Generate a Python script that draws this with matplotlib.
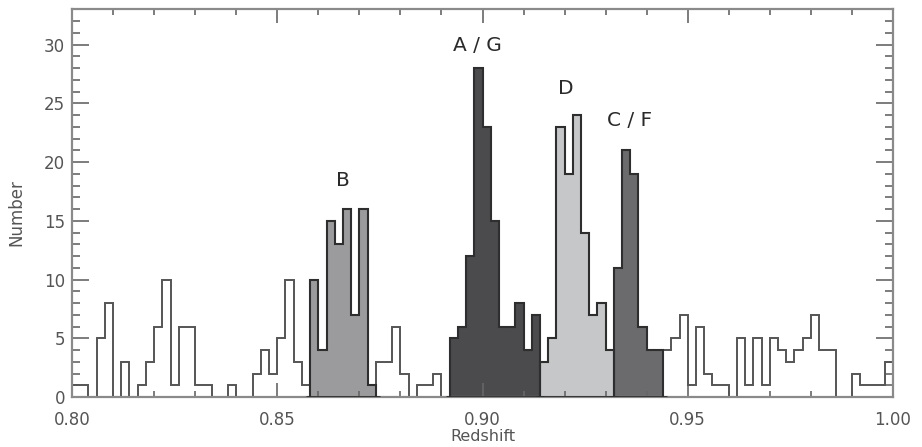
import numpy as np
import matplotlib
matplotlib.use("Agg")
import matplotlib.pyplot as plt
from matplotlib.ticker import MultipleLocator


# redshift histogram, 100 bins of width 0.002 between 0.80 and 1.00
z_min = 0.80
z_max = 1.00
bin_width = 0.002

counts = [
    1, 1, 0, 5, 8, 0, 3, 0, 1, 3,
    6, 10, 1, 6, 6, 1, 1, 0, 0, 1,
    0, 0, 2, 4, 2, 5, 10, 3, 1, 10,
    4, 15, 13, 16, 7, 16, 1, 3, 3, 6,
    2, 0, 1, 1, 2, 0, 5, 6, 12, 28,
    23, 15, 6, 6, 8, 4, 7, 3, 5, 23,
    19, 24, 14, 7, 8, 4, 11, 21, 19, 6,
    4, 4, 4, 5, 7, 1, 6, 2, 1, 1,
    0, 5, 1, 5, 1, 5, 4, 3, 4, 5,
    7, 4, 4, 0, 0, 2, 1, 1, 1, 3,
]

# structures: name, first bin, last bin (inclusive)
structure_names = ["B", "A / G", "D", "C / F"]
structure_first_bin = [29, 46, 57, 66]
structure_last_bin = [36, 56, 65, 71]
structure_colors = ["#9b9b9d", "#4b4b4d", "#c6c7c9", "#6b6b6e"]

# where each structure's name sits (redshift, number)
label_x = [0.8660, 0.8988, 0.9203, 0.9359]
label_y = [18.4, 29.9, 26.3, 23.5]

x_ticks = [0.80, 0.85, 0.90, 0.95, 1.00]
x_tick_labels = ["0.80", "0.85", "0.90", "0.95", "1.00"]


counts = np.array(counts)
edges = np.linspace(z_min, z_max, len(counts) + 1)

fig = plt.figure(figsize=(9.22, 4.47), dpi=100)
ax = fig.add_axes([72 / 922, 50 / 447, 821 / 922, 387.7 / 447])

# shaded structures
for first, last, color in zip(structure_first_bin, structure_last_bin, structure_colors):
    ax.stairs(counts[first:last + 1], edges[first:last + 2],
              fill=True, color=color, zorder=1)
    ax.stairs(counts[first:last + 1], edges[first:last + 2],
              color="#2e2e2e", lw=1.5, zorder=3)
    ax.hlines(0, edges[first] - bin_width / 2, edges[last + 1] + bin_width / 2,
              color="#2e2e2e", lw=2.0, zorder=3)

# outline of the whole sample
ax.stairs(counts, edges, color="#555555", lw=1.4, zorder=2)

for name, lx, ly in zip(structure_names, label_x, label_y):
    ax.text(lx, ly, name, ha="center", va="center",
            fontsize=14.5, color="#2a2a2a")

ax.set_xlim(z_min, z_max)
ax.set_ylim(0, 33)

ax.set_xticks(x_ticks)
ax.set_xticklabels(x_tick_labels)
ax.xaxis.set_minor_locator(MultipleLocator(0.01))
ax.yaxis.set_major_locator(MultipleLocator(5))
ax.yaxis.set_minor_locator(MultipleLocator(1))

ax.tick_params(which="both", direction="in", top=True, right=True,
               color="#666666", width=1.2, labelcolor="#555555",
               labelsize=12)
ax.tick_params(axis="y", which="major", length=12, pad=5)
ax.tick_params(axis="y", which="minor", length=6)
ax.tick_params(axis="x", which="major", length=10, pad=10)
ax.tick_params(axis="x", which="minor", length=4.5)

for spine in ax.spines.values():
    spine.set_color("#8a8a8a")
    spine.set_linewidth(1.6)

ax.set_xlabel("Redshift", fontsize=11.5, color="#555555", labelpad=0)
ax.set_ylabel("Number", fontsize=12, color="#555555")
ax.yaxis.set_label_coords(-0.057, 0.477)

fig.savefig("out.png", dpi=100)
plt.close(fig)
